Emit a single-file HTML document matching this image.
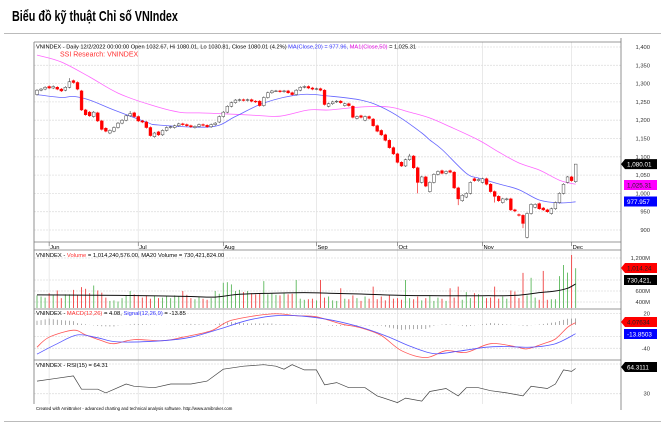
<!DOCTYPE html>
<html><head><meta charset="utf-8"><style>
html,body{margin:0;padding:0;background:#fff;}
svg{display:block;font-family:"Liberation Sans",sans-serif;}
</style></head><body>
<svg id="c" width="665" height="423" viewBox="0 0 665 423" xmlns="http://www.w3.org/2000/svg">
<text x="12" y="21" font-size="15" font-weight="bold" transform="scale(0.72,1)" style="transform-origin:12px 21px">Biểu đồ kỹ thuật Chỉ số VNIndex</text>
<line x1="4" y1="33.5" x2="661" y2="33.5" stroke="#bbb"/>
<line x1="4" y1="421.5" x2="661" y2="421.5" stroke="#bbb"/>
<g id="grid"></g>
<g id="marks"></g>
<g id="frame"></g>
<text x="36" y="48.5" font-size="5.8" textLength="380" lengthAdjust="spacingAndGlyphs">VNINDEX - Daily 12/2/2022 00:00:00 Open 1032.67, Hi 1080.01, Lo 1030.81, Close 1080.01 (4.2%) <tspan fill="#3333ff">MA(Close,20) = 977.96,</tspan> <tspan fill="#e000e0">MA1(Close,50)</tspan> = 1,025.31</text>
<text x="60" y="56.5" font-size="7" fill="#ff3030">SSI Research: VNINDEX</text>
<text x="36" y="257" font-size="5.8">VNINDEX - <tspan fill="#ff3030">Volume</tspan> = 1,014,240,576.00, MA20 Volume = 730,421,824.00</text>
<text x="36" y="315" font-size="5.8">VNINDEX - <tspan fill="#ff3030">MACD(12,26)</tspan> = 4.08, <tspan fill="#3333ff">Signal(12,26,9)</tspan> = -13.85</text>
<text x="36" y="367" font-size="5.8">VNINDEX - RSI(15) = 64.31</text>
<text x="36" y="410" font-size="4.3">Created with AmiBroker - advanced charting and technical analysis software. http://www.amibroker.com</text>
</svg>
<script>
const closes=[1282,1285,1290,1288,1292,1285,1280,1290,1305,1303,1285,1228,1215,1212,1222,1198,1175,1170,1172,1180,1192,1200,1212,1218,1210,1198,1195,1180,1158,1165,1160,1172,1180,1182,1185,1190,1188,1185,1182,1183,1188,1186,1182,1188,1192,1210,1222,1238,1248,1255,1256,1254,1256,1252,1250,1240,1262,1275,1280,1280,1278,1280,1275,1270,1282,1290,1292,1288,1285,1286,1282,1243,1245,1250,1252,1248,1245,1240,1208,1210,1208,1210,1205,1185,1170,1160,1145,1125,1108,1085,1075,1092,1102,1070,1030,1045,1020,1030,1052,1060,1055,1060,1058,1015,985,995,1000,1030,1035,1038,1040,1025,1005,992,980,985,985,955,952,940,918,945,970,970,958,955,950,958,975,1000,1025,1045,1035,1080];
const opens=[1270,1282,1285,1292,1288,1290,1285,1282,1290,1308,1303,1280,1228,1222,1210,1220,1198,1178,1165,1170,1180,1192,1200,1212,1220,1210,1198,1195,1180,1155,1168,1160,1172,1180,1180,1185,1190,1188,1185,1180,1183,1188,1186,1182,1188,1195,1210,1222,1238,1248,1254,1256,1254,1256,1252,1252,1240,1262,1275,1280,1280,1278,1280,1275,1270,1282,1290,1292,1288,1285,1286,1282,1238,1245,1250,1252,1240,1245,1238,1205,1212,1200,1210,1203,1185,1172,1160,1145,1125,1108,1085,1075,1092,1102,1070,1030,1045,1005,1030,1052,1062,1055,1062,1058,1015,980,990,1000,1040,1035,1030,1040,1025,1005,992,975,983,985,955,942,940,880,945,962,972,960,955,945,958,975,1000,1030,1045,1032];
const lowOverride={121:877,104:968,94:1000,113:975,120:905};
const highOverride={8:1315,23:1225,133:1080,92:1108};
const volumes=[520,500,480,560,520,610,470,540,540,620,520,670,640,560,700,610,570,480,420,430,410,470,520,600,540,530,480,520,460,510,470,480,500,470,520,500,600,530,470,450,490,460,440,470,600,550,750,760,720,600,620,580,600,560,540,560,780,540,560,530,520,560,540,550,800,460,440,450,460,430,800,480,500,430,420,650,460,450,520,470,420,500,460,680,450,500,430,520,460,470,440,800,470,450,500,430,470,520,420,480,460,420,650,480,680,440,580,470,560,540,500,470,480,680,460,500,460,610,590,470,930,520,840,480,440,965,440,450,450,870,1073,933,1255,1014];
const volMaIdx=[0,10,20,30,38,44,50,58,66,72,80,90,100,110,118,124,128,131,133];
const volMaVals=[530,525,520,510,500,490,540,560,570,560,545,520,515,515,520,570,600,650,730];
const ma20Idx=[0,6,9,13,19,27,30,43,49,56,65,72,80,85,90,95,97,100,106,109,114,119,124,129,133];
const ma20Vals=[1270,1262,1265,1255,1228,1195,1187,1182,1210,1247,1270,1266,1255,1236,1205,1165,1146,1120,1055,1042,1026,1010,982,974,977];
const ma50Idx=[0,6,13,20,28,35,40,45,53,60,67,72,80,87,92,97,102,109,114,119,124,129,133];
const ma50Vals=[1378,1359,1318,1274,1242,1222,1220,1218,1214,1211,1228,1228,1236,1236,1222,1206,1182,1146,1113,1083,1064,1036,1025];
const macdIdx=[0,3,9,12,16,19,24,31,36,43,48,58,64,69,75,80,85,90,96,101,106,112,118,121,125,128,131,133];
const macdVals=[-38,-21,-9,-17,-27,-32,-25,-27,-21,-10,8,19,16,14,2,-5,-18,-44,-56,-44,-47,-32,-37,-41,-32,-24,-4,4];
const sigIdx=[0,5,10,15,20,31,38,45,52,59,66,73,80,87,92,98,104,111,116,122,128,133];
const sigVals=[-50,-32,-17,-22,-29,-27,-21,-7,8,16,15,8,-4,-21,-36,-49,-45,-38,-37,-38,-32,-15];
const rsiIdx=[0,4,9,11,15,17,22,24,29,33,38,42,46,51,56,59,61,63,66,69,71,74,77,81,84,89,91,95,97,101,104,106,109,112,116,120,122,126,128,130,132,133];
const rsiVals=[47,50,54,36,36,31,43,40,38,43,43,47,63,67,69,67,63,69,62,62,42,45,38,38,27,18,24,20,33,37,27,38,38,34,31,27,40,37,43,62,60,64];
const priceTicks=[900,950,1000,1050,1100,1150,1200,1250,1300,1350,1400];
const volTicks=[400,600,800,1200];
const volTickLabels=['400M','600M','800M','1,200M'];
const macdTicks=[20,-20,-40];
const rsiTicks=[70,30];
const months=['Jun','Jul','Aug','Sep','Oct','Nov','Dec'];
const monthIdx=[3,25,46,69,89,110,132];

const NS='http://www.w3.org/2000/svg';
const L=34,R=621;
const xOf=i=>37+i*4.05;
const yP=p=>47+(1400-p)*0.366;
const yV=v=>302-(v-400)*0.055;
const yM=v=>325-v*0.583;
const yR=v=>364+(70-v)*0.742;
function mk(tag,attrs,parent){const e=document.createElementNS(NS,tag);for(const k in attrs)e.setAttribute(k,attrs[k]);parent.appendChild(e);return e;}
const grid=document.getElementById('grid'),marks=document.getElementById('marks'),frame=document.getElementById('frame');
function smoothPath(idx,vals,yf){const p=idx.map((v,k)=>[xOf(v),yf(vals[k])]);let d='M'+p[0][0].toFixed(1)+','+p[0][1].toFixed(1);for(let k=0;k<p.length-1;k++){const p0=p[k-1]||p[k],p1=p[k],p2=p[k+1],p3=p[k+2]||p2;const c1x=p1[0]+(p2[0]-p0[0])/6,c1y=p1[1]+(p2[1]-p0[1])/6,c2x=p2[0]-(p3[0]-p1[0])/6,c2y=p2[1]-(p3[1]-p1[1])/6;d+=' C'+c1x.toFixed(1)+','+c1y.toFixed(1)+' '+c2x.toFixed(1)+','+c2y.toFixed(1)+' '+p2[0].toFixed(1)+','+p2[1].toFixed(1);}return d;}
function lerp(idx,vals,i){for(let k=0;k<idx.length-1;k++){if(i>=idx[k]&&i<=idx[k+1]){const t=(i-idx[k])/(idx[k+1]-idx[k]);return vals[k]+t*(vals[k+1]-vals[k]);}}return vals[vals.length-1];}

monthIdx.forEach((mi,k)=>{
  const x=xOf(mi);
  const g=mk('line',{x1:x,y1:42,x2:x,y2:404,stroke:'#e4e4e4','stroke-width':0.8},grid);
  
  
  const t=mk('text',{x:x+1,y:249,'font-size':5.8},frame);t.textContent=months[k];
  
  
  const tk=mk('line',{x1:x,y1:242,x2:x,y2:246,stroke:'#666','stroke-width':0.6},frame);
  
  
});
priceTicks.forEach(p=>{
  const y=yP(p);
  const g=mk('line',{x1:L,y1:y,x2:R,y2:y,stroke:'#e0e0e0','stroke-width':0.8,'stroke-dasharray':'2,1'},grid);
  
  
  const t=mk('text',{x:650,y:y+2,'font-size':5.8,'text-anchor':'end',fill:'#333'},frame);t.textContent=p.toLocaleString('en-US');
  
  
});
volTicks.forEach((v,k)=>{
  const y=yV(v);
  const g=mk('line',{x1:L,y1:y,x2:R,y2:y,stroke:'#e0e0e0','stroke-width':0.8,'stroke-dasharray':'2,1'},grid);
  
  
  const t=mk('text',{x:650,y:y+2,'font-size':5.8,'text-anchor':'end',fill:'#333'},frame);t.textContent=volTickLabels[k];
  
  
});
macdTicks.forEach(v=>{
  const y=yM(v);
  const g=mk('line',{x1:L,y1:y,x2:R,y2:y,stroke:'#e0e0e0','stroke-width':0.8,'stroke-dasharray':'2,1'},grid);
  
  
  const t=mk('text',{x:650,y:y+2,'font-size':5.8,'text-anchor':'end',fill:'#333'},frame);t.textContent=String(v);
  
  
});
rsiTicks.forEach(v=>{
  const y=yR(v);
  const g=mk('line',{x1:L,y1:y,x2:R,y2:y,stroke:'#e0e0e0','stroke-width':0.8,'stroke-dasharray':'2,1'},grid);
  
  
  const t=mk('text',{x:650,y:y+2,'font-size':5.8,'text-anchor':'end',fill:'#333'},frame);t.textContent=String(v);
  
  
});

let pth=mk('path',{d:smoothPath(ma50Idx,ma50Vals,yP),fill:'none',stroke:'#ff66ff','stroke-width':0.8},marks);


pth=mk('path',{d:smoothPath(ma20Idx,ma20Vals,yP),fill:'none',stroke:'#6666ff','stroke-width':0.8},marks);



closes.forEach((c,i)=>{
  const o=opens[i],x=xOf(i);
  const up=c>=o;
  const hi=highOverride[i]!==undefined?highOverride[i]:Math.max(o,c)+3;
  const lo=lowOverride[i]!==undefined?lowOverride[i]:Math.min(o,c)-3;
  const w=mk('line',{x1:x,y1:yP(hi),x2:x,y2:yP(lo),stroke:up?'#444':'#e00','stroke-width':0.6},marks);
  
  
  const top=yP(Math.max(o,c)),bot=yP(Math.min(o,c));
  const r=mk('rect',{x:x-1.4,y:top,width:2.8,height:Math.max(0.7,bot-top),fill:up?'#fff':'#ff0000',stroke:up?'#444':'#ff0000','stroke-width':0.5},marks);
  
  
  const vy=Math.max(252,yV(volumes[i]));
  const vb=mk('line',{x1:x,y1:vy,x2:x,y2:308,stroke:up?'#5cb85c':'#f04040','stroke-width':0.9},marks);
  
  
  const h=lerp(macdIdx,macdVals,i)-lerp(sigIdx,sigVals,i);
  const hb=mk('line',{x1:x,y1:yM(0),x2:x,y2:yM(h*0.6),stroke:'#777','stroke-width':0.6},marks);
  
  
});
pth=mk('path',{d:smoothPath(volMaIdx,volMaVals,yV),fill:'none',stroke:'#111','stroke-width':1},marks);


pth=mk('path',{d:smoothPath(macdIdx,macdVals,yM),fill:'none',stroke:'#ff5555','stroke-width':0.8},marks);


pth=mk('path',{d:smoothPath(sigIdx,sigVals,yM),fill:'none',stroke:'#5555ff','stroke-width':0.8},marks);


let rd='';rsiIdx.forEach((ix,k)=>{rd+=(k?'L':'M')+xOf(ix).toFixed(1)+','+yR(rsiVals[k]).toFixed(1);});
pth=mk('path',{d:rd,fill:'none',stroke:'#444','stroke-width':0.7},marks);



[[L,42,R,42],[L,42,L,404],[R,38,R,410],[L,242,R,242],[L,250,R,250],[L,309,R,309],[L,360,R,360]].forEach(s=>{
  const l=mk('line',{x1:s[0],y1:s[1],x2:s[2],y2:s[3],stroke:'#777','stroke-width':0.8},frame);
  
  
});
function tag(y,txt,fill,tc,name,arrow){
  const g=mk('g',{},frame);
  
  
  if(arrow) mk('path',{d:`M621,${y} L625,${y-5} L657,${y-5} L657,${y+5} L625,${y+5} Z`,fill:fill},g);
  else mk('rect',{x:624,y:y-5,width:33,height:10,fill:fill},g);
  const t=mk('text',{x:627,y:y+2.3,'font-size':6.3,fill:tc},g);t.textContent=txt;
}
tag(yP(1080.01),'1,080.01','#000','#fff','last-close-tag',true);
tag(185,'1,025.31','#ff00ff','#222','ma50-value-tag',false);
tag(201.5,'977.957','#0000ff','#fff','ma20-value-tag',false);
tag(268,'1,014.24','#ff0000','#222','volume-value-tag',true);
tag(280,'730,421,','#000','#fff','volume-ma-value-tag',false);
tag(322,'4.07634','#ff0000','#222','macd-value-tag',true);
tag(334,'-13.8503','#0000ff','#fff','signal-value-tag',false);
tag(367,'64.3111','#000','#fff','rsi-value-tag',true);
</script>
</body></html>
